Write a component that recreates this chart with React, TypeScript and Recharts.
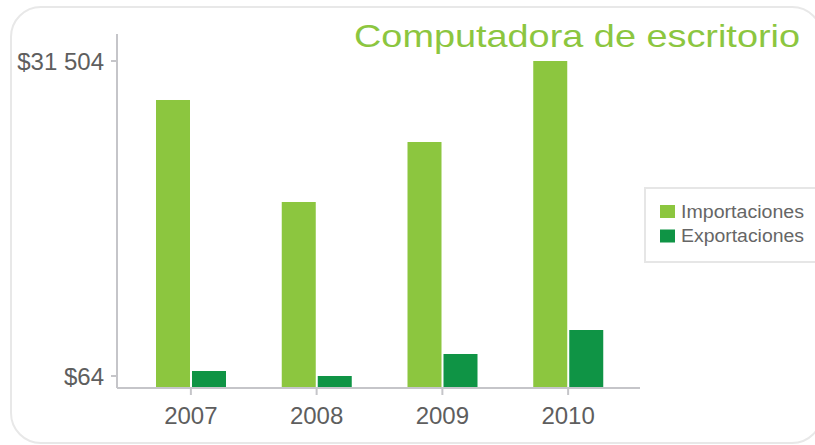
// Importaciones vs exportaciones de computadoras de escritorio, 2007–2010.
import { Bar, BarChart, XAxis, YAxis } from "recharts";

const years = ["2007", "2008", "2009", "2010"];
const importaciones = [27612, 17431, 23419, 31504];
const exportaciones = [563, 64, 2260, 4655];
const yTicks = [64, 31504];
const yTickLabels = ["$64", "$31 504"];
const title = "Computadora de escritorio";
const seriesNames = ["Importaciones", "Exportaciones"];

const FONT = "'Liberation Sans', Arial, sans-serif";
const IMP = "#8cc63f";
const EXP = "#0f9445";
const AXIS = "#c5c5c9";
const TEXT = "#5e5e5e";

const data = years.map((year, i) => ({
  year,
  imp: importaciones[i],
  exp: exportaciones[i],
}));

// barras que arrancan desde el borde inferior del área de trazado
function FullBar(props: any) {
  const { x, y, width, height, fill, background } = props;
  const bottom = background ? background.y + background.height : y + height;
  return <rect x={x} y={y} width={width} height={Math.max(0, bottom - y)} fill={fill} />;
}

function LegendBox() {
  const colors = [IMP, EXP];
  return (
    <g transform="translate(645 188)">
      <rect x={0} y={0} width={190} height={74} fill="#fff" stroke="#e6e6e6" strokeWidth={2} />
      {seriesNames.map((name, i) => (
        <g key={name}>
          <rect x={15} y={17 + i * 24.5} width={15} height={13} fill={colors[i]} />
          <text
            x={36}
            y={29.5 + i * 24.5}
            fontSize={17.5}
            fontFamily={FONT}
            fill="#666"
            textLength={123}
            lengthAdjust="spacingAndGlyphs"
          >
            {name}
          </text>
        </g>
      ))}
    </g>
  );
}

export default function App() {
  return (
    <div style={{ position: "absolute", left: 0, top: 0, width: 815, height: 445, background: "#fff", overflow: "hidden" }}>
      <svg width={815} height={445} style={{ position: "absolute", left: 0, top: 0 }}>
        <rect x={11} y={7} width={811} height={436} rx={30} ry={30} fill="#fff" stroke="#e8e8e8" strokeWidth={2} />
        <text
          x={354}
          y={47}
          fontSize={30.5}
          fontFamily={FONT}
          fill={IMP}
          textLength={446}
          lengthAdjust="spacingAndGlyphs"
        >
          {title}
        </text>
        <LegendBox />
      </svg>
      <div style={{ position: "absolute", left: 0, top: 0 }}>
        <BarChart
          width={815}
          height={445}
          data={data}
          margin={{ top: 34, right: 175, left: 0, bottom: 7 }}
          barSize={34}
          barGap={2}
        >
          <XAxis
            dataKey="year"
            height={50}
            padding={{ left: 11, right: 9 }}
            stroke={AXIS}
            strokeWidth={2}
            tickSize={7}
            tickMargin={12}
            tick={{ fill: TEXT, fontSize: 24, fontFamily: FONT }}
          />
          <YAxis
            type="number"
            width={117}
            domain={[-1134, 34199]}
            ticks={yTicks}
            interval={0}
            tickFormatter={(v: number) => yTickLabels[yTicks.indexOf(v)] ?? String(v)}
            stroke={AXIS}
            strokeWidth={2}
            tickSize={6}
            tickMargin={7}
            tick={{ fill: TEXT, fontSize: 24, fontFamily: FONT }}
          />
          <Bar dataKey="imp" name={seriesNames[0]} fill={IMP} shape={<FullBar />} isAnimationActive={false} />
          <Bar dataKey="exp" name={seriesNames[1]} fill={EXP} shape={<FullBar />} isAnimationActive={false} />
        </BarChart>
      </div>
    </div>
  );
}
